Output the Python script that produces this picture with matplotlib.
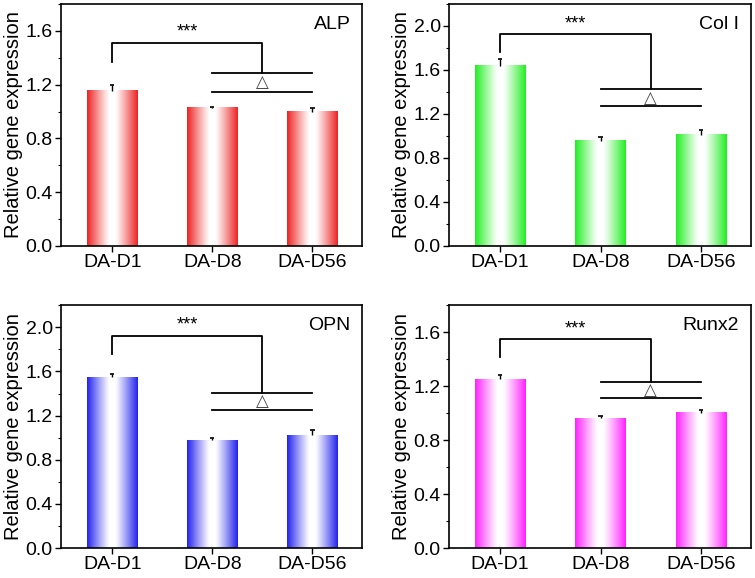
import numpy as np
import matplotlib
matplotlib.use("Agg")
import matplotlib.pyplot as plt
from matplotlib.ticker import MultipleLocator, FormatStrFormatter
from matplotlib.colors import to_rgb

plt.rcParams['font.family'] = ['Liberation Sans', 'DejaVu Sans']

groups = ['DA-D1', 'DA-D8', 'DA-D56']
genes = ['ALP', 'Col I', 'OPN', 'Runx2']

alp = [1.155, 1.027, 0.998]
alp_err = [0.04, 0.01, 0.025]
col1 = [1.638, 0.957, 1.011]
col1_err = [0.06, 0.03, 0.04]
opn = [1.547, 0.976, 1.021]
opn_err = [0.03, 0.024, 0.046]
runx2 = [1.251, 0.962, 1.004]
runx2_err = [0.035, 0.015, 0.017]

values = [alp, col1, opn, runx2]
errors = [alp_err, col1_err, opn_err, runx2_err]
colors = ['#ee2222', '#22ee22', '#2222ee', '#ff22ff']
ymax = [1.8, 2.2, 2.2, 1.8]

# bracket levels: top, left leg end, upper line, lower line
brackets = [
    [1.51, 1.37, 1.287, 1.146],
    [1.928, 1.765, 1.424, 1.273],
    [1.925, 1.759, 1.405, 1.254],
    [1.55, 1.415, 1.234, 1.115],
]

axes_pos = [
    [0.081, 0.5744, 0.399, 0.4187],
    [0.5947, 0.5744, 0.40, 0.4187],
    [0.081, 0.0519, 0.399, 0.4199],
    [0.5947, 0.0519, 0.40, 0.4199],
]

fig = plt.figure(figsize=(7.55, 5.78), dpi=100)

u = np.linspace(0, 1, 200)
t = np.abs(2 * (u - 0.5))
mix = np.clip((t - 0.12) / 0.88, 0, 1) ** 1.1

x = np.arange(1, len(groups) + 1)
bw = 0.5
cap = 0.022

for k in range(4):
    ax = fig.add_axes(axes_pos[k])
    c = np.array(to_rgb(colors[k]))
    grad = (1 - mix[:, None]) * np.ones(3) + mix[:, None] * c
    grad = grad[None, :, :]
    v = np.array(values[k])
    e = np.array(errors[k])
    for i in range(len(groups)):
        ax.imshow(grad, extent=[x[i] - bw / 2, x[i] + bw / 2, 0, v[i]],
                  aspect='auto', zorder=2, interpolation='bilinear')
    # upper-only error bars
    ax.vlines(x, v, v + e, color='black', lw=1.0, zorder=3)
    ax.hlines(v + e, x - cap, x + cap, color='black', lw=1.2, zorder=3)

    top, leg, up, low = brackets[k]
    ax.plot([1, 1, 2.5, 2.5], [leg, top, top, up], color='black', lw=1.3, zorder=4)
    ax.plot([2, 3], [up, up], color='black', lw=1.3, zorder=4)
    ax.plot([2, 3], [low, low], color='black', lw=1.3, zorder=4)
    ax.text(1.75, top + 0.015, '***', ha='center', va='bottom', fontsize=13)
    ax.text(2.5, (up + low) / 2, '△', ha='center', va='center', fontsize=12,
            color='#444444', family='DejaVu Sans')
    ax.text(0.96, 0.915, genes[k], transform=ax.transAxes, ha='right', va='center',
            fontsize=14)

    ax.set_xlim(0.49, 3.5)
    ax.set_ylim(0, ymax[k])
    ax.set_xticks(x)
    ax.set_xticklabels(groups)
    ax.yaxis.set_major_locator(MultipleLocator(0.4))
    ax.yaxis.set_minor_locator(MultipleLocator(0.2))
    ax.tick_params(axis='both', which='major', direction='out', length=4,
                   width=1, labelsize=14, top=False, right=False, pad=2)
    ax.tick_params(axis='y', which='minor', direction='out', length=2.5, width=0.8)
    ax.yaxis.set_major_formatter(FormatStrFormatter('%.1f'))
    for s in ax.spines.values():
        s.set_linewidth(1.2)
    ax.set_ylabel('Relative gene expression', fontsize=14.5, labelpad=2)

fig.savefig('out.png', dpi=100)
